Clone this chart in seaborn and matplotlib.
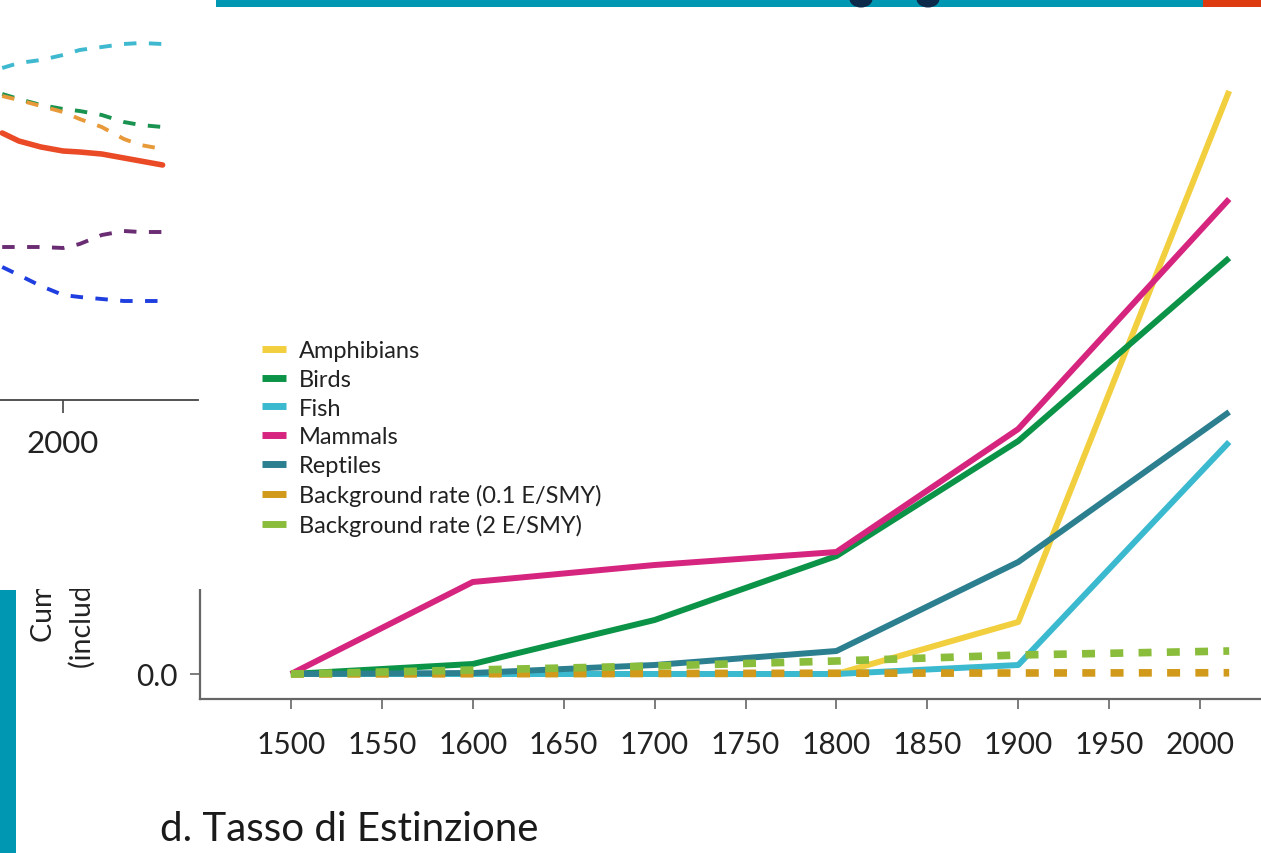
import matplotlib
matplotlib.use("Agg")
import pandas as pd
import matplotlib.pyplot as plt
from matplotlib.patches import Rectangle, Ellipse
from matplotlib.lines import Line2D
from matplotlib.transforms import Bbox, TransformedBbox
import seaborn as sns

# ---- main panel: cumulative extinctions since 1500 ----
years = [1500, 1600, 1700, 1800, 1900, 2016]
amphibians = [0.0, 0.0, 0.0, 0.0, 0.208, 2.332]
birds = [0.0, 0.040, 0.216, 0.472, 0.932, 1.664]
fish = [0.0, 0.0, 0.0, 0.0, 0.036, 0.928]
mammals = [0.0, 0.368, 0.436, 0.488, 0.980, 1.900]
reptiles = [0.0, 0.004, 0.036, 0.092, 0.448, 1.048]
background_01 = [0.0, 0.001, 0.002, 0.003, 0.004, 0.005]
background_2 = [0.0, 0.016, 0.032, 0.052, 0.076, 0.092]

series_names = ["Amphibians", "Birds", "Fish", "Mammals", "Reptiles",
                "Background rate (0.1 E/SMY)", "Background rate (2 E/SMY)"]
series_values = [amphibians, birds, fish, mammals, reptiles,
                 background_01, background_2]
series_colors = ["#f2cf3f", "#0b9447", "#3ab9cf", "#d6257f", "#2c7f8f",
                 "#d19a1a", "#8bbd3d"]
x_ticks = [1500, 1550, 1600, 1650, 1700, 1750, 1800, 1850, 1900, 1950, 2000]
y_ticks = [0.0, 0.5, 1.0, 1.5, 2.0, 2.5]

y_label_lines = ["Cumulative %", "(including EW)"]
title = "d. Tasso di Estinzione"

# ---- left panel (trend lines, partially shown) ----
trend_years = [1989, 1992, 1996, 2000, 2003, 2007, 2011, 2014, 2018]
trend_cyan = [332, 337, 340, 345, 350, 353, 356, 357, 356]
trend_green = [306, 301, 295, 291, 289, 285, 278, 275, 273]
trend_orange = [304, 300, 294, 288, 281, 273, 261, 255, 251]
trend_red = [267, 259, 253, 249, 248, 246, 242, 239, 235]
trend_purple = [153, 153, 153, 152, 156, 165, 169, 168, 168]
trend_blue = [133, 125, 114, 105, 103, 101, 99, 99, 99]
trend_names = ["cyan", "green", "orange", "red", "purple", "blue"]
trend_values = [trend_cyan, trend_green, trend_orange, trend_red,
                trend_purple, trend_blue]
trend_colors = ["#3fb9cf", "#1a9350", "#e89a3a", "#ea4a25", "#6a2c72", "#1f3ee0"]
trend_solid = ["red"]

sns.set_theme(style="white")
plt.rcParams["font.family"] = ["Lato", "DejaVu Sans"]
plt.rcParams["text.color"] = "#222222"

W, H = 1261, 854
fig = plt.figure(figsize=(W / 100, H / 100), dpi=100)


def fx(px):
    return px / W


def fy(py):
    return 1 - py / H


# ---- main axes ----
ax = fig.add_axes([fx(200), fy(700), fx(1261) - fx(200), fy(30) - fy(700)])
rows = []
for name, vals in zip(series_names, series_values):
    for yr, v in zip(years, vals):
        rows.append({"year": yr, "value": v, "series": name})
df = pd.DataFrame(rows)

dash_map = {n: "" for n in series_names}
dash_map["Background rate (0.1 E/SMY)"] = (1.7, 2.0)
dash_map["Background rate (2 E/SMY)"] = (1.7, 2.0)

sns.lineplot(data=df, x="year", y="value", hue="series", style="series",
             hue_order=series_names, style_order=series_names,
             palette=dict(zip(series_names, series_colors)),
             dashes=dash_map, linewidth=4.3, legend=False, ax=ax,
             sort=False, estimator=None)
for ln in ax.get_lines():
    ln.set_solid_capstyle("butt")
    ln.set_dash_capstyle("butt")
    if ln.get_linestyle() != "-":
        ln.set_linewidth(5.5)

ax.set_xlim(1450, 2033.5)
ax.set_ylim(-0.1, 2.58)
ax.set_xticks(x_ticks)
ax.set_xticklabels([str(t) for t in x_ticks])
ax.set_yticks(y_ticks)
ax.set_yticklabels([f"{t:.1f}" for t in y_ticks])
ax.set_xlabel("")
ax.set_ylabel("")
for side in ["top", "right"]:
    ax.spines[side].set_visible(False)
for side in ["left", "bottom"]:
    ax.spines[side].set_color("#666666")
    ax.spines[side].set_linewidth(1.6)
ax.tick_params(axis="both", which="both", direction="out", length=7,
               width=1.2, color="#666666", labelsize=21.5,
               labelcolor="#222222", left=True, bottom=True)
ax.tick_params(axis="x", pad=15)
ax.tick_params(axis="y", pad=9)
ax.grid(False)

# y-axis title, two rotated lines, shown only below the left panel
label_clip = TransformedBbox(Bbox([[0, 0], [1, fy(590)]]), fig.transFigure)
for (lx, ly), line in zip([(44, 642), (82, 668)], y_label_lines):
    t = fig.text(fx(lx), fy(ly), line, rotation=90, ha="center", va="bottom",
                 fontsize=20.5, color="#222222")
    t.set_clip_box(label_clip)
    t.set_clip_on(True)

handles = [Line2D([0], [0], color=c, lw=5, solid_capstyle="butt")
           for c in series_colors]
fig.legend(handles, series_names, loc="upper left",
           bbox_to_anchor=(fx(262), fy(341)), frameon=False, fontsize=17,
           handlelength=1.0, handletextpad=0.55, labelspacing=0.33,
           borderpad=0, borderaxespad=0)

fig.text(fx(160), fy(830), title, fontsize=29, va="center", ha="left",
         color="#1a1a1a")

# ---- white overlay carrying the left panel ----
fig.add_artist(Rectangle((0, fy(590)), fx(212), 1 - fy(590),
                         transform=fig.transFigure, facecolor="white",
                         edgecolor="none", zorder=3))

ax2 = fig.add_axes([0, fy(401), fx(198), 1 - fy(401)])
ax2.set_zorder(4)
ax2.patch.set_alpha(0)
trows = []
for name, vals in zip(trend_names, trend_values):
    for yr, v in zip(trend_years, vals):
        trows.append({"year": yr, "value": v, "series": name})
tdf = pd.DataFrame(trows)
tdash = {n: ("" if n in trend_solid else (3.2, 3.2)) for n in trend_names}
sns.lineplot(data=tdf, x="year", y="value", hue="series", style="series",
             hue_order=trend_names, style_order=trend_names,
             palette=dict(zip(trend_names, trend_colors)), dashes=tdash,
             linewidth=2.8, legend=False, ax=ax2, sort=False, estimator=None)
for ln in ax2.get_lines():
    if ln.get_linestyle() == "-":
        ln.set_linewidth(4.0)
ax2.set_xlim(1988.6, 2024.4)
ax2.set_ylim(0, 401)
ax2.set_xticks([2000])
ax2.set_xticklabels(["2000"])
ax2.set_yticks([])
ax2.set_xlabel("")
ax2.set_ylabel("")
for side in ["top", "right", "left"]:
    ax2.spines[side].set_visible(False)
ax2.spines["bottom"].set_color("#444444")
ax2.spines["bottom"].set_linewidth(1.3)
ax2.tick_params(axis="x", direction="out", length=9, width=1.2,
                color="#444444", labelsize=22.5, labelcolor="#222222", pad=12,
                bottom=True)
ax2.grid(False)

# ---- page decorations: header band and side band ----
fig.add_artist(Rectangle((fx(216), fy(8)), fx(1203) - fx(216), 8 / H,
                         transform=fig.transFigure, facecolor="#0097b2",
                         edgecolor="none", zorder=5))
fig.add_artist(Rectangle((fx(1203), fy(8)), fx(1261) - fx(1203), 8 / H,
                         transform=fig.transFigure, facecolor="#dd3a10",
                         edgecolor="none", zorder=5))
for cx in (861, 928):
    fig.add_artist(Ellipse((fx(cx), fy(0)), fx(23), 17 / H,
                           transform=fig.transFigure, facecolor="#0d2a4a",
                           edgecolor="none", zorder=6))
fig.add_artist(Rectangle((0, 0), fx(16), fy(591),
                         transform=fig.transFigure, facecolor="#0097b2",
                         edgecolor="none", zorder=5))

fig.savefig("out.png", dpi=100, facecolor="white")
